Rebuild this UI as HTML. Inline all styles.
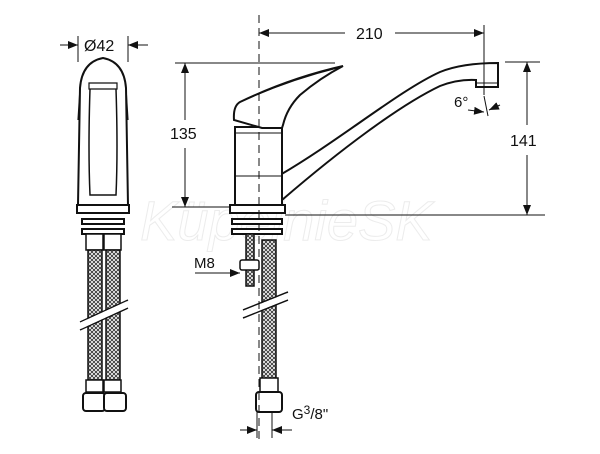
<!DOCTYPE html>
<html><head><meta charset="utf-8"><style>
html,body{margin:0;padding:0;background:#fff}
svg{display:block}
text{font-family:"Liberation Sans",sans-serif;fill:#111}
</style></head><body>
<svg width="600" height="454" viewBox="0 0 600 454" xmlns="http://www.w3.org/2000/svg">
<defs>
<pattern id="br" width="4" height="4" patternUnits="userSpaceOnUse">
<rect width="4" height="4" fill="#fff"/>
<path d="M0 0L4 4M4 0L0 4" stroke="#333" stroke-width="0.9"/>
</pattern>
<marker id="a" markerWidth="10" markerHeight="8" refX="10" refY="4" orient="auto" markerUnits="userSpaceOnUse">
<path d="M0 0L10 4L0 8z" fill="#111"/>
</marker>
</defs>
<text x="140" y="240" font-size="56" font-style="italic" style="fill:none;stroke:#ececec;stroke-width:1">KüpelnieSK</text>

<g stroke="#111" fill="none" stroke-width="2">
<path d="M80 88 Q82 62 103 58 Q124 62 126 88 L128 205 L78 205 Z" fill="#fff"/>
<path d="M80 88 L78 120 M126 88 L128 120" stroke-width="1.2"/>
<path d="M89 89 L117 89 L117 83 L89 83 Z" stroke-width="1.2"/>
<path d="M90 89 Q88 150 90 195 L116 195 Q118 150 116 89" stroke-width="1.5"/>
<rect x="77" y="205" width="52" height="8" fill="#fff"/>
<rect x="82" y="219" width="42" height="5" fill="#fff"/>
<rect x="82" y="229" width="42" height="5" fill="#fff"/>
<rect x="86" y="234" width="17" height="16" fill="#fff" stroke-width="1.5"/>
<rect x="104" y="234" width="17" height="16" fill="#fff" stroke-width="1.5"/>
<rect x="88" y="250" width="14" height="130" fill="url(#br)" stroke-width="1.5"/>
<rect x="106" y="250" width="14" height="130" fill="url(#br)" stroke-width="1.5"/>
<path d="M80 322 L128 300 M80 330 L128 308" stroke-width="1.5"/>
<path d="M80 326 L128 304" stroke="#fff" stroke-width="6"/>
<rect x="86" y="380" width="17" height="12" fill="#fff" stroke-width="1.5"/>
<rect x="104" y="380" width="17" height="12" fill="#fff" stroke-width="1.5"/>
<rect x="83" y="393" width="22" height="18" rx="3" fill="#fff"/>
<rect x="104" y="393" width="22" height="18" rx="3" fill="#fff"/>

<path d="M280 175 C340 140 400 90 440 72 Q462 63 498 63 L498 87 L476 87 L476 80 Q458 79 440 86 C400 105 340 150 282 200 Z" fill="#fff"/>
<path d="M476 83 L498 83" stroke-width="1"/>
<path d="M235 208 L235 127 L282 127 L282 208 Z" fill="#fff"/>
<path d="M236 133 L281 133 M236 176 L281 176" stroke-width="1"/>
<path d="M234 120 Q233 106 240 102 Q290 78 343 66 Q320 78 300 95 Q287 108 283 125 L282 128 L262 128 Z" fill="#fff"/>
<path d="M245 100 Q290 80 338 68" stroke-width="0.8"/>
<rect x="230" y="205" width="55" height="8" fill="#fff"/>
<rect x="232" y="219" width="50" height="5" fill="#fff"/>
<rect x="232" y="229" width="50" height="5" fill="#fff"/>
<rect x="246" y="234" width="8" height="52" fill="url(#br)" stroke-width="1.5"/>
<rect x="240" y="260" width="19" height="10" rx="2" fill="#fff" stroke-width="1.5"/>
<rect x="262" y="240" width="14" height="150" fill="url(#br)" stroke-width="1.5"/>
<path d="M243 310 L288 292 M243 318 L288 300" stroke-width="1.5"/>
<path d="M243 314 L288 296" stroke="#fff" stroke-width="6"/>
<rect x="260" y="378" width="18" height="14" fill="#fff" stroke-width="1.5"/>
<rect x="256" y="392" width="26" height="20" rx="3" fill="#fff"/>
</g>

<g stroke="#111" stroke-width="1" fill="none">
<line x1="259" y1="15" x2="259" y2="440" stroke-dasharray="8,5"/>
<line x1="78" y1="36" x2="78" y2="62"/>
<line x1="128" y1="36" x2="128" y2="62"/>
<line x1="60" y1="45" x2="78" y2="45" marker-end="url(#a)"/>
<line x1="148" y1="45" x2="128" y2="45" marker-end="url(#a)"/>
<line x1="345" y1="33" x2="259" y2="33" marker-end="url(#a)"/>
<line x1="395" y1="33" x2="484" y2="33" marker-end="url(#a)"/>
<line x1="484" y1="25" x2="484" y2="95"/>
<line x1="175" y1="63" x2="335" y2="63"/>
<line x1="172" y1="207" x2="230" y2="207"/>
<line x1="185" y1="120" x2="185" y2="63" marker-end="url(#a)"/>
<line x1="185" y1="148" x2="185" y2="207" marker-end="url(#a)"/>
<line x1="505" y1="62" x2="540" y2="62"/>
<line x1="285" y1="215" x2="545" y2="215"/>
<line x1="527" y1="125" x2="527" y2="62" marker-end="url(#a)"/>
<line x1="527" y1="155" x2="527" y2="215" marker-end="url(#a)"/>
<line x1="484" y1="96" x2="488" y2="116"/>
<line x1="468" y1="110" x2="484" y2="112" marker-end="url(#a)"/>
<line x1="500" y1="105" x2="489" y2="110" marker-end="url(#a)"/>
<line x1="195" y1="273" x2="240" y2="273" marker-end="url(#a)"/>
<line x1="257" y1="412" x2="257" y2="438"/>
<line x1="272" y1="412" x2="272" y2="438"/>
<line x1="240" y1="430" x2="257" y2="430" marker-end="url(#a)"/>
<line x1="292" y1="430" x2="272" y2="430" marker-end="url(#a)"/>
</g>
<text x="84" y="51" font-size="16">Ø42</text>
<text x="356" y="39" font-size="16">210</text>
<text x="170" y="139" font-size="16">135</text>
<text x="510" y="146" font-size="16">141</text>
<text x="454" y="107" font-size="15">6°</text>
<text x="194" y="268" font-size="15">M8</text>
<text x="292" y="419" font-size="15">G<tspan dy="-5" font-size="12">3</tspan><tspan dy="5">/8"</tspan></text>
</svg>
</body></html>
